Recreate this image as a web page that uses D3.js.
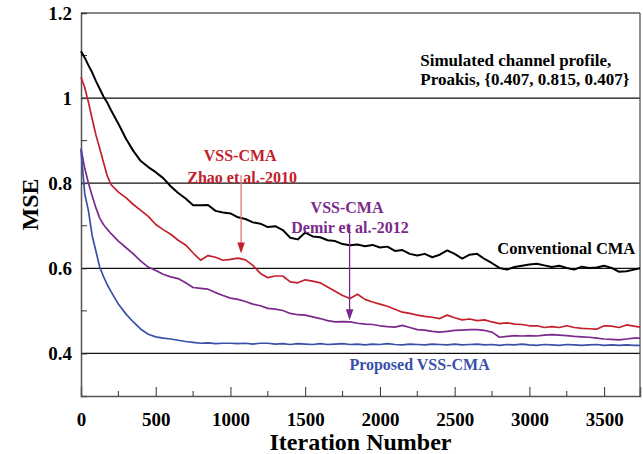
<!DOCTYPE html>
<html lang="en">
<head>
<meta charset="UTF-8">
<title>MSE vs Iteration Number</title>
<script src="https://d3js.org/d3.v7.min.js"></script>
<style>
    body { margin: 0; background: #fff; }
    svg { display: block; }
    text { font-family: "Liberation Serif", "Times New Roman", serif; font-weight: bold; }
</style>
</head>
<body>
<div id="chart"></div>
<script>
// iteration grid shared by all curves
const iterations = [0, 25, 50, 75, 100, 125, 150, 175, 200,
    250, 300, 350, 400, 450, 500, 550, 600, 650, 700, 750, 800, 850, 900, 950, 1000,
    1050, 1100, 1150, 1200, 1250, 1300, 1350, 1400, 1450, 1500, 1550, 1600, 1650, 1700, 1750, 1800,
    1850, 1900, 1950, 2000, 2050, 2100, 2150, 2200, 2250, 2300, 2350, 2400, 2450, 2500, 2550, 2600,
    2650, 2700, 2750, 2800, 2850, 2900, 2950, 3000, 3050, 3100, 3150, 3200, 3250, 3300, 3350, 3400,
    3450, 3500, 3550, 3600, 3650, 3700, 3740];

const conventionalCMA = [1.110, 1.095, 1.077, 1.060, 1.040, 1.022, 1.004, 0.990, 0.972,
    0.940, 0.905, 0.876, 0.852, 0.838, 0.826, 0.812, 0.793, 0.777, 0.764, 0.748, 0.748, 0.749, 0.735, 0.731, 0.729,
    0.720, 0.716, 0.708, 0.705, 0.697, 0.699, 0.690, 0.672, 0.668, 0.684, 0.675, 0.673, 0.666, 0.664, 0.657, 0.654,
    0.656, 0.652, 0.655, 0.649, 0.651, 0.641, 0.643, 0.634, 0.630, 0.634, 0.626, 0.632, 0.642, 0.634, 0.623, 0.632,
    0.634, 0.622, 0.612, 0.601, 0.597, 0.603, 0.606, 0.609, 0.611, 0.607, 0.603, 0.606, 0.601, 0.597, 0.604, 0.601,
    0.602, 0.606, 0.601, 0.592, 0.593, 0.597, 0.600];

const zhao2010 = [1.049, 1.025, 0.990, 0.951, 0.913, 0.882, 0.850, 0.818, 0.797,
    0.779, 0.766, 0.750, 0.736, 0.722, 0.703, 0.691, 0.680, 0.666, 0.655, 0.636, 0.619, 0.630, 0.626, 0.619, 0.621,
    0.624, 0.620, 0.607, 0.588, 0.578, 0.582, 0.582, 0.568, 0.566, 0.573, 0.570, 0.566, 0.556, 0.546, 0.536, 0.529,
    0.539, 0.527, 0.521, 0.516, 0.511, 0.504, 0.497, 0.494, 0.490, 0.487, 0.485, 0.482, 0.490, 0.484, 0.479, 0.481,
    0.477, 0.479, 0.474, 0.470, 0.472, 0.469, 0.468, 0.465, 0.465, 0.461, 0.463, 0.461, 0.465, 0.461, 0.459, 0.458,
    0.457, 0.465, 0.464, 0.461, 0.467, 0.464, 0.462];

const demir2012 = [0.882, 0.835, 0.800, 0.770, 0.742, 0.718, 0.703, 0.692, 0.682,
    0.664, 0.649, 0.634, 0.617, 0.603, 0.595, 0.586, 0.580, 0.576, 0.566, 0.555, 0.553, 0.551, 0.543, 0.536, 0.530,
    0.527, 0.522, 0.516, 0.512, 0.506, 0.504, 0.501, 0.494, 0.491, 0.490, 0.486, 0.482, 0.477, 0.474, 0.475, 0.474,
    0.471, 0.469, 0.468, 0.465, 0.463, 0.462, 0.466, 0.461, 0.456, 0.455, 0.452, 0.450, 0.452, 0.454, 0.455, 0.456,
    0.456, 0.454, 0.450, 0.438, 0.440, 0.442, 0.441, 0.442, 0.441, 0.443, 0.444, 0.443, 0.442, 0.440, 0.439, 0.438,
    0.436, 0.434, 0.433, 0.432, 0.434, 0.436, 0.436];

const proposedVSS = [0.878, 0.775, 0.735, 0.676, 0.640, 0.603, 0.581, 0.562, 0.546,
    0.516, 0.493, 0.474, 0.457, 0.445, 0.439, 0.436, 0.434, 0.431, 0.428, 0.426, 0.424, 0.425, 0.423, 0.424, 0.424,
    0.423, 0.424, 0.422, 0.424, 0.424, 0.422, 0.423, 0.421, 0.423, 0.422, 0.421, 0.423, 0.421, 0.422, 0.423, 0.421,
    0.422, 0.420, 0.422, 0.421, 0.423, 0.421, 0.420, 0.422, 0.421, 0.420, 0.422, 0.421, 0.420, 0.422, 0.420, 0.421,
    0.422, 0.420, 0.421, 0.419, 0.421, 0.420, 0.422, 0.420, 0.419, 0.421, 0.420, 0.419, 0.421, 0.420, 0.419, 0.420,
    0.421, 0.419, 0.420, 0.419, 0.420, 0.419, 0.419];

const xMajorTicks = [0, 500, 1000, 1500, 2000, 2500, 3000, 3500];
const xMinorTicks = [250, 750, 1250, 1750, 2250, 2750, 3250];
const yMajorTicks = [0.4, 0.6, 0.8, 1.0, 1.2];
const yMinorTicks = [0.5, 0.7, 0.9, 1.1];
const gridValues = [0.4, 0.6, 0.8, 1.0, 1.2];

const series = [
    {name: "Conventional CMA", values: conventionalCMA, color: "#000000", width: 2},
    {name: "Zhao et al.-2010", values: zhao2010, color: "#c3202b", width: 1.7},
    {name: "Demir et al.-2012", values: demir2012, color: "#7b2a8c", width: 1.7},
    {name: "Proposed VSS-CMA", values: proposedVSS, color: "#3a50a8", width: 1.7}
];

const W = 643, H = 454;
const margin = {top: 13, right: 3, bottom: 58, left: 81};

const svg = d3.select("#chart").append("svg")
    .attr("width", W)
    .attr("height", H);

const x = d3.scaleLinear().domain([0, 3740]).range([margin.left, W - margin.right]);
const y = d3.scaleLinear().domain([0.3, 1.2]).range([H - margin.bottom, margin.top]);

// horizontal grid
svg.selectAll(".grid")
    .data(gridValues)
    .enter().append("line")
    .attr("x1", x(0)).attr("x2", x(3740))
    .attr("y1", d => y(d)).attr("y2", d => y(d))
    .attr("stroke", "#111")
    .attr("stroke-width", 1.2);

// right border
svg.append("line")
    .attr("x1", x(3740)).attr("x2", x(3740))
    .attr("y1", y(1.2)).attr("y2", y(0.3))
    .attr("stroke", "#555").attr("stroke-width", 1.3);

// axes
const xAxis = svg.append("g")
    .attr("transform", `translate(0,${y(0.3)})`)
    .call(d3.axisBottom(x).tickValues(xMajorTicks).tickSize(-9).tickPadding(17).tickFormat(d3.format("d")));
xAxis.selectAll(".tick")
    .filter(d => d === 0)
    .select("line").remove();
xAxis.append("g").selectAll("line")
    .data(xMinorTicks)
    .enter().append("line")
    .attr("x1", d => x(d)).attr("x2", d => x(d))
    .attr("y1", 0).attr("y2", -5)
    .attr("stroke", "#333");

const yAxis = svg.append("g")
    .attr("transform", `translate(${x(0)},0)`)
    .call(d3.axisLeft(y).tickValues(yMajorTicks).tickSize(-6).tickPadding(9).tickFormat(d => d3.format("")(+d.toFixed(1))));
yAxis.append("g").selectAll("line")
    .data(yMinorTicks)
    .enter().append("line")
    .attr("x1", 0).attr("x2", 6)
    .attr("y1", d => y(d)).attr("y2", d => y(d))
    .attr("stroke", "#333");

[xAxis, yAxis].forEach(a => {
    a.select(".domain").attr("stroke", "#555").attr("stroke-width", 1.5);
    a.selectAll(".tick line").attr("stroke", "#333");
    a.selectAll(".tick text")
        .attr("fill", "#000")
        .style("font-size", "19px")
        .style("font-family", "'Liberation Serif', 'Times New Roman', serif")
        .style("font-weight", "bold");
});
yAxis.selectAll(".tick text").attr("dy", "0.33em");

// curves
const line = d3.line()
    .x((d, i) => x(iterations[i]))
    .y(d => y(d));

series.forEach(s => {
    svg.append("path")
        .datum(s.values)
        .attr("fill", "none")
        .attr("stroke", s.color)
        .attr("stroke-width", s.width)
        .attr("stroke-linejoin", "round")
        .attr("d", line);
});

// axis titles
svg.append("text")
    .attr("x", x(1870))
    .attr("y", 450)
    .attr("text-anchor", "middle")
    .style("font-size", "24px")
    .text("Iteration Number");

svg.append("text")
    .attr("transform", `translate(38,${y(0.75)}) rotate(-90)`)
    .attr("text-anchor", "middle")
    .style("font-size", "24px")
    .text("MSE");

// annotations
function label(txt, xv, yv, color, size, anchor) {
    svg.append("text")
        .attr("x", x(xv))
        .attr("y", y(yv))
        .attr("text-anchor", anchor || "middle")
        .attr("fill", color)
        .style("font-size", size + "px")
        .text(txt);
}

function arrow(xv, y0, y1, lineColor, headColor) {
    const px = x(xv), top = y(y0), tip = y(y1);
    svg.append("line")
        .attr("x1", px).attr("x2", px)
        .attr("y1", top).attr("y2", tip - 8)
        .attr("stroke", lineColor).attr("stroke-width", 1.3);
    svg.append("path")
        .attr("d", `M${px - 3.8},${tip - 11} L${px + 3.8},${tip - 11} L${px},${tip} Z`)
        .attr("fill", headColor);
}

label("Simulated channel profile,", 2270, 1.076, "#000", 17, "start");
label("Proakis, {0.407, 0.815, 0.407}", 2270, 1.030, "#000", 17, "start");

label("VSS-CMA", 1065, 0.852, "#c3202b", 16);
label("Zhao et al.-2010", 1078, 0.800, "#c3202b", 16);
arrow(1071, 0.819, 0.635, "#d9777c", "#c3202b");

label("VSS-CMA", 1780, 0.729, "#7b2a8c", 16);
label("Demir et al.-2012", 1800, 0.682, "#7b2a8c", 16);
arrow(1797, 0.701, 0.478, "#7b2a8c", "#7b2a8c");

label("Conventional CMA", 3247, 0.633, "#000", 16.5);
label("Proposed VSS-CMA", 2265, 0.361, "#3a50a8", 16);
</script>
</body>
</html>
